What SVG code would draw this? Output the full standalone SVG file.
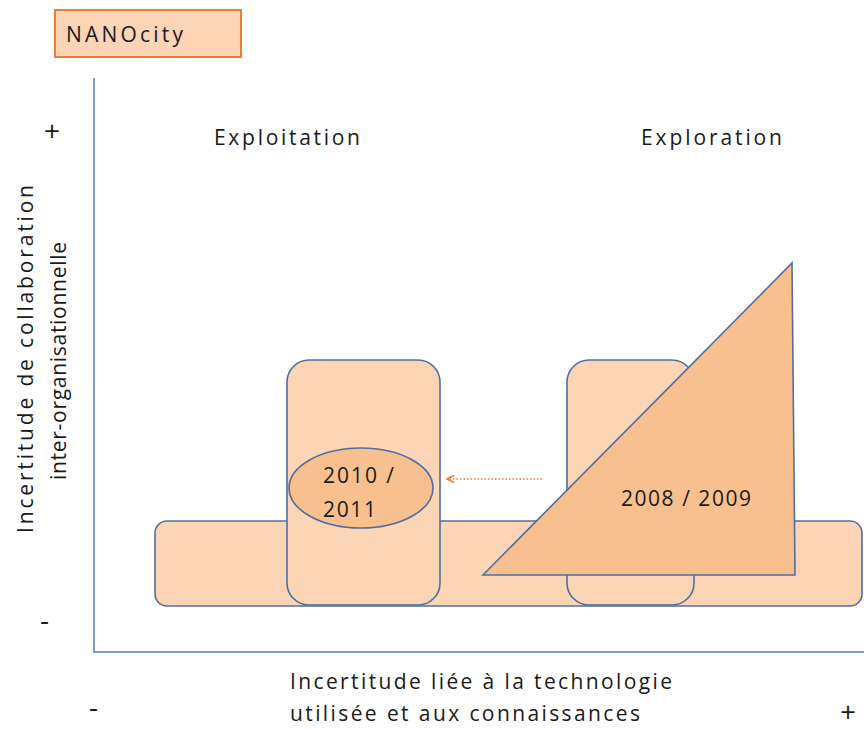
<svg xmlns="http://www.w3.org/2000/svg" width="864" height="729" viewBox="0 0 864 729">
<defs>
<style>
text{font-family:"Open Sans","Liberation Sans",Arial,sans-serif;fill:#1a1a1a;font-size:21px}
.light{fill:#FBD5B5;stroke:#4F6FA0;stroke-width:1.6}
.dark{fill:#F8C08F;stroke:#4F6FA0;stroke-width:1.6}
.axis{stroke:#7F9DCB;stroke-width:2;fill:none}
.sign{font-size:28px}
</style>
<marker id="ah" viewBox="0 0 10 10" refX="9" refY="5" markerWidth="9" markerHeight="9" orient="auto" markerUnits="userSpaceOnUse">
<path d="M1,1 L9,5 L1,9" fill="none" stroke="#ED7D31" stroke-width="1.8"/>
</marker>
</defs>
<rect width="864" height="729" fill="#ffffff"/>
<g id="legend">
<rect x="55" y="10" width="186" height="47" fill="#FBD5B5" stroke="#ED7D31" stroke-width="2"/>
<text x="66" y="42" textLength="117">NANOcity</text>
</g>
<g id="axes">
<polyline class="axis" points="94,78 94,652 864,652"/>
<text class="sign" x="44" y="141">+</text>
<text class="sign" x="40" y="630">-</text>
<text class="sign" x="89" y="717">-</text>
<text class="sign" x="840" y="722">+</text>
<text transform="translate(33,533) rotate(-90)" textLength="348">Incertitude de collaboration</text>
<text transform="translate(66,480) rotate(-90)" textLength="238">inter-organisationnelle</text>
<text x="290" y="689" textLength="382">Incertitude liée à la technologie</text>
<text x="290" y="721" textLength="350">utilisée et aux connaissances</text>
<text x="214" y="145" textLength="146">Exploitation</text>
<text x="641" y="145" textLength="141">Exploration</text>
</g>
<g id="wide-band">
<rect class="light" x="155" y="521" width="707" height="85" rx="12"/>
</g>
<g id="exploitation-box">
<rect class="light" x="287" y="360" width="153" height="245" rx="22"/>
</g>
<g id="exploration-box">
<rect class="light" x="567" y="360" width="127" height="245" rx="22"/>
</g>
<g id="period-2010">
<ellipse class="dark" cx="361" cy="488" rx="72" ry="40"/>
<text x="323" y="483" textLength="71">2010 /</text>
<text x="323" y="517" textLength="53">2011</text>
</g>
<g id="period-2008">
<polygon class="dark" points="483,575 792,263 795,575"/>
<text x="621" y="506" textLength="130">2008 / 2009</text>
</g>
<g id="connectors">
<line x1="542" y1="479" x2="447" y2="479" stroke="#ED7D31" stroke-width="1.6" stroke-dasharray="1.5 2" marker-end="url(#ah)"/>
</g>
</svg>
